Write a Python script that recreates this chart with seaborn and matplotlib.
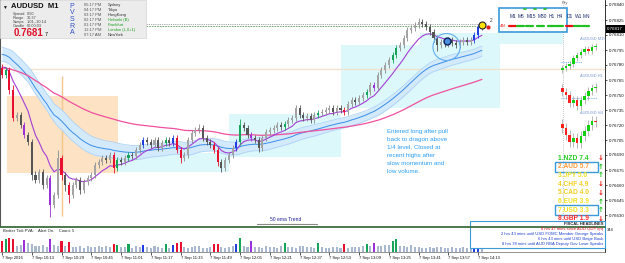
import numpy as np
import pandas as pd
import matplotlib
matplotlib.use("Agg")
import matplotlib.pyplot as plt
import seaborn as sns
from matplotlib.patches import Rectangle, Ellipse

sns.set_style("white")
plt.rcParams['font.family'] = ['Liberation Sans', 'DejaVu Sans']

# ---------------- data (AUDUSD, 2-minute bars) ----------------
first_open = 0.76777
closes = [0.76770, 0.76775, 0.76755, 0.76727, 0.76730, 0.76720, 0.76710, 0.76703, 0.76670, 0.76665,
          0.76673, 0.76660, 0.76667, 0.76640, 0.76650, 0.76687, 0.76670, 0.76660, 0.76650, 0.76660,
          0.76665, 0.76655, 0.76663, 0.76667, 0.76670, 0.76680, 0.76683, 0.76687, 0.76685, 0.76690,
          0.76677, 0.76685, 0.76683, 0.76687, 0.76690, 0.76689, 0.76695, 0.76700, 0.76705, 0.76703,
          0.76700, 0.76705, 0.76697, 0.76702, 0.76705, 0.76702, 0.76707, 0.76695, 0.76687, 0.76690,
          0.76705, 0.76712, 0.76715, 0.76717, 0.76707, 0.76703, 0.76700, 0.76695, 0.76683, 0.76677,
          0.76685, 0.76690, 0.76697, 0.76703, 0.76720, 0.76717, 0.76710, 0.76707, 0.76705, 0.76697,
          0.76707, 0.76713, 0.76715, 0.76717, 0.76720, 0.76718, 0.76721, 0.76725, 0.76727, 0.76737,
          0.76730, 0.76727, 0.76729, 0.76725, 0.76730, 0.76732, 0.76733, 0.76735, 0.76737, 0.76733,
          0.76737, 0.76735, 0.76733, 0.76741, 0.76745, 0.76743, 0.76747, 0.76750, 0.76753, 0.76760,
          0.76757, 0.76770, 0.76775, 0.76780, 0.76785, 0.76790, 0.76797, 0.76800, 0.76807, 0.76815,
          0.76817, 0.76820, 0.76823, 0.76821, 0.76818, 0.76813, 0.76807, 0.76800, 0.76803, 0.76801,
          0.76805, 0.76802, 0.76800, 0.76803, 0.76805, 0.76803, 0.76805, 0.76810, 0.76818, 0.76817]
hi_wick = [4, 3, 3, 5, 3, 3, 3, 3, 3, 4,
           3, 3, 3, 3, 3, 8, 3, 3, 3, 3,
           3, 3, 3, 3, 3, 3, 3, 3, 3, 3,
           3, 3, 3, 3, 3, 3, 3, 3, 3, 3,
           3, 3, 3, 3, 3, 3, 3, 3, 3, 3,
           3, 3, 3, 4, 3, 3, 3, 3, 3, 3,
           3, 3, 3, 3, 6, 3, 3, 3, 3, 3,
           3, 3, 3, 3, 3, 3, 3, 3, 3, 3,
           3, 3, 3, 3, 3, 3, 3, 3, 3, 3,
           3, 3, 3, 3, 3, 3, 3, 3, 3, 3,
           3, 3, 3, 3, 3, 3, 3, 3, 3, 3,
           3, 3, 4, 3, 3, 3, 3, 3, 3, 3,
           3, 3, 3, 3, 3, 3, 3, 3, 3, 2]
lo_wick = [3, 3, 4, 3, 3, 3, 3, 3, 5, 3,
           3, 4, 3, 12, 3, 3, 5, 6, 8, 3,
           3, 4, 3, 3, 3, 3, 3, 3, 3, 3,
           5, 3, 3, 3, 3, 3, 3, 3, 3, 3,
           3, 3, 3, 3, 3, 3, 3, 3, 5, 3,
           3, 3, 3, 3, 3, 3, 3, 3, 4, 4,
           3, 3, 3, 3, 3, 3, 3, 3, 3, 4,
           3, 3, 3, 3, 3, 3, 3, 3, 3, 3,
           3, 3, 3, 3, 3, 3, 3, 3, 3, 3,
           3, 3, 3, 3, 3, 3, 3, 3, 3, 3,
           3, 3, 3, 3, 3, 3, 3, 3, 3, 3,
           3, 3, 3, 3, 3, 3, 4, 6, 3, 3,
           3, 3, 3, 3, 3, 3, 3, 3, 3, 2]
volumes = [110, 120, 130, 125, 60, 70, 115, 90, 75, 60,
           55, 70, 50, 120, 65, 55, 110, 60, 100, 45,
           50, 60, 40, 55, 45, 50, 60, 45, 55, 50,
           80, 70, 45, 50, 75, 40, 55, 45, 70, 50,
           40, 60, 45, 35, 80, 40, 70, 90, 95, 50,
           40, 45, 55, 60, 40, 35, 45, 75, 80, 50,
           40, 45, 55, 80, 130, 60, 50, 110, 45, 50,
           40, 55, 50, 45, 40, 55, 90, 50, 45, 40,
           55, 60, 45, 50, 40, 85, 45, 40, 35, 50,
           45, 40, 75, 40, 45, 50, 45, 55, 80, 55,
           90, 60, 55, 65, 70, 110, 125, 60, 55, 50,
           65, 45, 50, 40, 35, 45, 40, 50, 45, 40,
           35, 45, 40, 35, 45, 40, 50, 80, 85, 30]
# PVSRA class per bar: n normal, r climax bear, g climax bull, b rising bull, p rising bear
pvsra = ("rgrr" "nn" "p" "nnnnnn" "p" "nn" "r" "n" "r" "nnnnnnnnnnn" "rg" "nn" "g" "nnn" "b"
         "nnnnn" "g" "n" "brr" "nnnnnnnn" "rr" "nnnn" "bg" "nn" "p" "nnnnnnnn" "g" "nnnnnnnn"
         "g" "nnnnnn" "r" "nnnnn" "g" "n" "p" "nnnn" "gg" "nnnnnnnnnnnnnnnnnnnn" "bb" "n")

ema_seeds = {"fast": 0.76780, "dragon": 0.76792, "dragon_hi": 0.76799, "dragon_lo": 0.76785, "slow": 0.76777}
ema_spans = {"fast": 9, "dragon": 32, "slow": 80}

time_labels = ["7 Sep 2016", "7 Sep 10:13", "7 Sep 10:29", "7 Sep 10:45", "7 Sep 11:01", "7 Sep 11:17",
               "7 Sep 11:33", "7 Sep 11:49", "7 Sep 12:05", "7 Sep 12:21", "7 Sep 12:37", "7 Sep 12:53",
               "7 Sep 13:09", "7 Sep 13:25", "7 Sep 13:41", "7 Sep 13:57", "7 Sep 14:13"]
price_ticks = [0.76840, 0.76825, 0.76810, 0.76795, 0.76780, 0.76765, 0.76750, 0.76735,
               0.76720, 0.76705, 0.76690, 0.76675, 0.76660, 0.76645, 0.76630]
current_price = 0.76817

# higher time-frame mini charts (closes)
m15_open, m15_closes = 0.76775, [0.76777, 0.76779, 0.76781, 0.76787, 0.76790, 0.76793, 0.76796, 0.76794, 0.76798, 0.76799]
h1_open, h1_closes = 0.76757, [0.76753, 0.76750, 0.76742, 0.76745, 0.76739, 0.76745, 0.76749, 0.76754, 0.76757, 0.76758]
h4_open, h4_closes = 0.76721, [0.76717, 0.76710, 0.76703, 0.76707, 0.76702, 0.76709, 0.76714, 0.76720, 0.76724, 0.76723]

currencies = ["NZD", "AUD", "JPY", "CHF", "CAD", "EUR", "USD", "GBP"]
strength = [7.4, 5.7, 5.0, 4.9, 4.0, 3.9, 3.3, 1.9]
direction = ["down", "up", "up", "down", "down", "up", "up", "down"]

news = [("FISCAL HEADLINES", "#222222"),
        ("8 hrs 47 mins since AUD GDP q/q", "#e0102a"),
        ("2 hrs 43 mins until USD FOMC Member George Speaks", "#1a3fd0"),
        ("6 hrs 43 mins until USD Beige Book", "#1a3fd0"),
        ("8 hrs 38 mins until AUD RBA Deputy Gov Lowe Speaks", "#1a3fd0")]

tf_labels = ["M1", "M5", "M15", "M30", "H1", "H4", "D1", "W1", "MN"]
tf_state = ["red", "green", "green", "green", "green", "green", "red", "green", "green"]

clock_times = ["05:17 PM", "04:17 PM", "03:17 PM", "02:17 PM", "01:17 PM", "12:17 PM", "07:17 AM"]
clock_cities = ["Sydney", "Tokyo", "HongKong", "Helsinki (B)", "Frankfurt", "London (L,0+1)", "NewYork"]
info_names = ["Spread", "Range", "Swaps", "Candle"]
info_values = ["0.50", "30.37", "1.01,-10.14", "00:00:03"]

# ---------------- derived series ----------------
n = len(closes)
idx = np.arange(n)
c = np.array(closes)
o = np.array([first_open] + closes[:-1])
h = np.maximum(o, c) + np.array(hi_wick) * 1e-5
l = np.minimum(o, c) - np.array(lo_wick) * 1e-5


def ema(vals, seed, span):
    return pd.Series([seed] + list(vals)).ewm(span=span, adjust=False).mean().iloc[1:].to_numpy()


df = pd.DataFrame({
    "bar": idx,
    "fast": ema(c, ema_seeds["fast"], ema_spans["fast"]),
    "dragon": ema(c, ema_seeds["dragon"], ema_spans["dragon"]),
    "dragon_hi": ema(h, ema_seeds["dragon_hi"], ema_spans["dragon"]),
    "dragon_lo": ema(l, ema_seeds["dragon_lo"], ema_spans["dragon"]),
    "slow": ema(c, ema_seeds["slow"], ema_spans["slow"]),
})

# ---------------- figure ----------------
W, H = 625, 263
fig = plt.figure(figsize=(W / 100, H / 100), dpi=100)
fig.patch.set_facecolor("white")


def fx(x):
    return x / W


def fy(y):
    return 1 - y / H


ax = fig.add_axes([0, fy(226), 605 / W, 226 / H])
axv = fig.add_axes([0, fy(252), 605 / W, 24 / H], sharex=ax)
XL = (-0.538, 162.1)
ax.set_xlim(*XL)
ax.set_ylim(0.76619, 0.76845)

# zones
zones = [(1.3, 31.2, 0.76672, 0.76749, "#fde2c4"),
         (31.2, 61.0, 0.76673, 0.76692, "#dcf8fb"),
         (61.0, 91.1, 0.76688, 0.76731, "#dcf8fb"),
         (91.1, 112.4, 0.76737, 0.76800, "#dcf8fb"),
         (112.4, 133.9, 0.76737, 0.76812, "#dcf8fb"),
         (133.9, 150.8, 0.76801, 0.76812, "#dcf8fb")]
for x0, x1, y0, y1, col in zones:
    ax.add_patch(Rectangle((x0, y0), x1 - x0, y1 - y0, fc=col, ec="none", zorder=0))
ax.vlines(16.1, 0.76629, 0.76769, color="#f7c48a", lw=1.0, zorder=0.5)
ax.axhline(0.76776, color="#f1e3cf", lw=1.0, zorder=0.5)
ax.axvline(150.9, color="#b0b0b0", lw=0.6, ls=(0, (1, 1.5)), zorder=0.5)
ax.hlines(0.76821, 0, 129.8, colors="#8a8a8a", linestyles=(0, (1, 1.2)), lw=0.6, zorder=1)
ax.hlines(0.76819, 0, 129.8, colors="#5f9f5f", linestyles=(0, (2, 1.2)), lw=0.6, zorder=1)

# dragon band and averages
ax.fill_between(df["bar"], df["dragon_lo"], df["dragon_hi"], color="#d3e9fc", lw=0, zorder=1)
sns.lineplot(data=df, x="bar", y="dragon_hi", ax=ax, color="#aed3f5", lw=0.6, zorder=1.2)
sns.lineplot(data=df, x="bar", y="dragon_lo", ax=ax, color="#aed3f5", lw=0.6, zorder=1.2)
sns.lineplot(data=df, x="bar", y="dragon", ax=ax, color="#3a8ee8", lw=0.7, zorder=1.3)
sns.lineplot(data=df, x="bar", y="slow", ax=ax, color="#f0509e", lw=0.9, zorder=1.4)
sns.lineplot(data=df, x="bar", y="fast", ax=ax, color="#a43fd6", lw=0.8, zorder=1.5)

# candles
code_col = {"r": "#e8102e", "g": "#16a35a", "b": "#1f3fe0", "p": "#9b30d9"}
body_cols, wick_cols = [], []
for i in range(n):
    k = pvsra[i]
    if k in code_col:
        body_cols.append(code_col[k]); wick_cols.append(code_col[k])
    elif c[i] >= o[i]:
        body_cols.append("#a4a4a4"); wick_cols.append("#8a8a8a")
    else:
        body_cols.append("#555555"); wick_cols.append("#555555")
ax.vlines(idx, l, h, colors=wick_cols, lw=0.6, zorder=2)
body_h = np.maximum(np.abs(c - o), 0.4e-5)
ax.bar(idx, body_h, bottom=np.minimum(o, c), width=0.55, color=body_cols, lw=0, zorder=2.1)


def mini(start, first, cl, wick):
    cl = np.array(cl)
    op = np.array([first] + list(cl[:-1]))
    xs = start + np.arange(len(cl))
    cols = ["#10d010" if a >= b else "#ff2020" for a, b in zip(cl, op)]
    ax.vlines(xs, np.minimum(op, cl) - wick, np.maximum(op, cl) + wick, colors="#9a9a9a", lw=0.5, zorder=2)
    ax.bar(xs, np.maximum(np.abs(cl - op), 0.5e-5), bottom=np.minimum(op, cl), width=0.7,
           color=cols, lw=0, zorder=2.1)


mini(150.6, m15_open, m15_closes, 3e-5)
mini(150.6, h1_open, h1_closes, 4e-5)
mini(150.6, h4_open, h4_closes, 5e-5)
ax.hlines(0.76783, 150.3, 156, colors="#6aa8e8", linestyles=(0, (1, 1.2)), lw=0.7, zorder=1)
ax.hlines(0.76747, 150.3, 160, colors="#6aa8e8", linestyles=(0, (1, 1.2)), lw=0.7, zorder=1)

# trade markers
ax.add_patch(Ellipse((119.5, 0.76798), 7.3, 0.00027, fc="none", ec="#62aef0", lw=0.8, zorder=3))
ax.plot([119.6], [0.76804], "o", ms=5, mfc="#4a8ee0", mec="#10205a", mew=1.0, zorder=4)
ax.plot([129], [0.76820], "o", ms=5, mfc="#ffe400", mec="#222222", mew=0.8, zorder=4)
ax.plot([130.6], [0.76818], "o", ms=2, mfc="#e02020", mec="#e02020", zorder=4)
ax.text(131.2, 0.76823, "2", fontsize=3.5, color="#333333", zorder=4)

# axes styling
ax.set_xlabel(""); ax.set_ylabel("")
ax.tick_params(axis="x", bottom=False, labelbottom=False)
ax.yaxis.tick_right()
ax.set_yticks(price_ticks)
ax.set_yticklabels([f"{p:.5f}" for p in price_ticks])
ax.tick_params(axis="y", right=True, length=1.5, width=0.5, pad=1, labelsize=3.2, colors="#111111")
for s in ["top", "bottom"]:
    ax.spines[s].set_visible(False)
ax.spines["right"].set_color("#111111"); ax.spines["right"].set_linewidth(0.6)
ax.spines["left"].set_color("#555555"); ax.spines["left"].set_linewidth(0.8)

# volume panel
vol_cols = [code_col.get(k, "#aab8cf") for k in pvsra]
vdf = pd.DataFrame({"bar": idx, "vol": volumes})
axv.bar(vdf["bar"], vdf["vol"], width=0.55, color=vol_cols, lw=0)
axv.set_ylim(0, 230)
axv.set_xlim(*XL)
axv.set_yticks([])
axv.set_xticks(list(range(0, 130, 8)))
axv.set_xticklabels(time_labels, ha="left")
axv.tick_params(axis="x", bottom=True, length=2, width=0.5, pad=1, labelsize=3, colors="#111111")
for s in ["top", "left"]:
    axv.spines[s].set_visible(False)
axv.spines["right"].set_color("#111111"); axv.spines["right"].set_linewidth(0.6)
axv.spines["bottom"].set_color("#666666"); axv.spines["bottom"].set_linewidth(0.5)
axv.set_xlabel(""); axv.set_ylabel("")

# separators
fig.add_artist(plt.Line2D([0, fx(605)], [fy(226.5), fy(226.5)], color="#3c6e3c", lw=1.3))
fig.add_artist(plt.Line2D([fx(257), fx(317)], [fy(223.5), fy(223.5)], color="#8a8a8a", lw=0.8))
fig.text(fx(270), fy(219.5), "50 ema Trend", fontsize=3.6, color="#22229a", va="center")
fig.text(fx(3), fy(231), "Broker Tick PVA:    Alert On.    Count: 5", fontsize=3, color="#222222", va="center")

# current price box
fig.add_artist(Rectangle((fx(606), fy(33)), fx(19), 8 / H, fc="#000000", ec="none"))
fig.text(fx(607), fy(29), f"{current_price:.5f}", fontsize=3.2, color="white", va="center")
fig.text(fx(607), fy(230), "344", fontsize=3, color="#111111", va="center")

# annotation
fig.text(fx(387), fy(129.5), "Entered long after pull\nback to dragon above\n1/4 level. Closed at\nrecent highs after\nslow momentum and\nlow volume.",
         fontsize=4.5, color="#2a9df4", va="top", linespacing=1.72)

# info panel
fig.add_artist(Rectangle((0, fy(38)), fx(146), 38 / H, fc="#ececec", ec="#d4d4d4", lw=0.5))
fig.text(fx(2.5), fy(7), "▼", fontsize=3.5, color="#111111", va="center")
fig.text(fx(11), fy(7), "AUDUSD  M1", fontsize=5.5, weight="bold", color="#111111", va="center")
for k, (nm, vl) in enumerate(zip(info_names, info_values)):
    fig.text(fx(13), fy(14 + 4 * k), nm, fontsize=2.8, color="#444444", va="center")
    fig.text(fx(27), fy(14 + 4 * k), vl, fontsize=2.8, color="#444444", va="center")
fig.text(fx(14), fy(33), "0.7681", fontsize=7, weight="bold", color="#e0102a", va="center")
fig.text(fx(45), fy(34), "7", fontsize=4, color="#111111", va="center")
for k, ch in enumerate("PVSRA"):
    fig.text(fx(72), fy(6 + 6.7 * k), ch, fontsize=5, color="#3050c8", va="center", ha="center")
for k, (tm, ct) in enumerate(zip(clock_times, clock_cities)):
    col = "#1e9e1e" if k in (3, 4, 5) else "#333333"
    fig.text(fx(84), fy(5 + 5 * k), tm, fontsize=2.9, color="#555555", va="center")
    fig.text(fx(108), fy(5 + 5 * k), ct, fontsize=2.9, color=col, va="center")

# timeframe dashboard
fig.add_artist(Rectangle((fx(499), fy(32)), fx(68), 24 / H, fc="white", ec="#3a9ad9", lw=1.2))
tf_x = [510, 518, 527, 538, 549, 557, 567, 575, 583]
for xx in (525, 535, 545):
    fig.add_artist(plt.Line2D([fx(xx - 1), fx(xx + 1)], [fy(9), fy(9)], color="#20c020", lw=1.2))
for xx, lb, st in zip(tf_x, tf_labels, tf_state):
    fig.text(fx(xx), fy(16), lb, fontsize=3.5, color="#1a2a6a", va="center")
    col = "#ee1010" if st == "red" else "#20c020"
    fig.add_artist(plt.Line2D([fx(xx - 1), fx(xx + 6)], [fy(26), fy(26)], color=col, lw=1.6))
fig.text(fx(500), fy(26), "4N", fontsize=3.2, color="#ee1010", va="center")
fig.text(fx(562), fy(3), "Pry", fontsize=3.2, color="#666666", va="center")

# mini chart labels
for yy, lb in zip([39, 76, 113], ["AUDUSD M15", "AUDUSD H1", "AUDUSD H4"]):
    fig.text(fx(580), fy(yy), lb, fontsize=2.9, color="#7a9acc", va="center")

# currency strength list
str_cols = ["#22cc22", "#ff9a3a", "#f0e020", "#f0d020", "#f0d020", "#f0e020", "#f0e020", "#ff2a2a"]
for k, (cur, sv, dr) in enumerate(zip(currencies, strength, direction)):
    yy = 158 + 8.7 * k
    fig.text(fx(558), fy(yy), f"{k + 1}.{cur} {sv:.1f}", fontsize=4.8, weight="bold", color=str_cols[k], va="center")
    fig.text(fx(601), fy(yy), "↑" if dr == "up" else "↓", fontsize=5, weight="bold",
             color="#10c010" if dr == "up" else "#ee1010", va="center", ha="center", family="DejaVu Sans")
    if cur in ("AUD", "USD"):
        fig.add_artist(Rectangle((fx(555), fy(yy + 5)), fx(43), 10 / H, fc="none", ec="#3a9ad9", lw=1.0))

# news box
fig.add_artist(Rectangle((fx(470), fy(248)), fx(135), 27 / H, fc="white", ec="#3a9ad9", lw=0.8))
for k, (txt, col) in enumerate(news):
    fig.text(fx(603), fy(224 + 5 * k), txt, fontsize=3.0, color=col, va="center", ha="right",
             weight="bold" if k == 0 else "normal")

fig.savefig("out.png", dpi=100)
